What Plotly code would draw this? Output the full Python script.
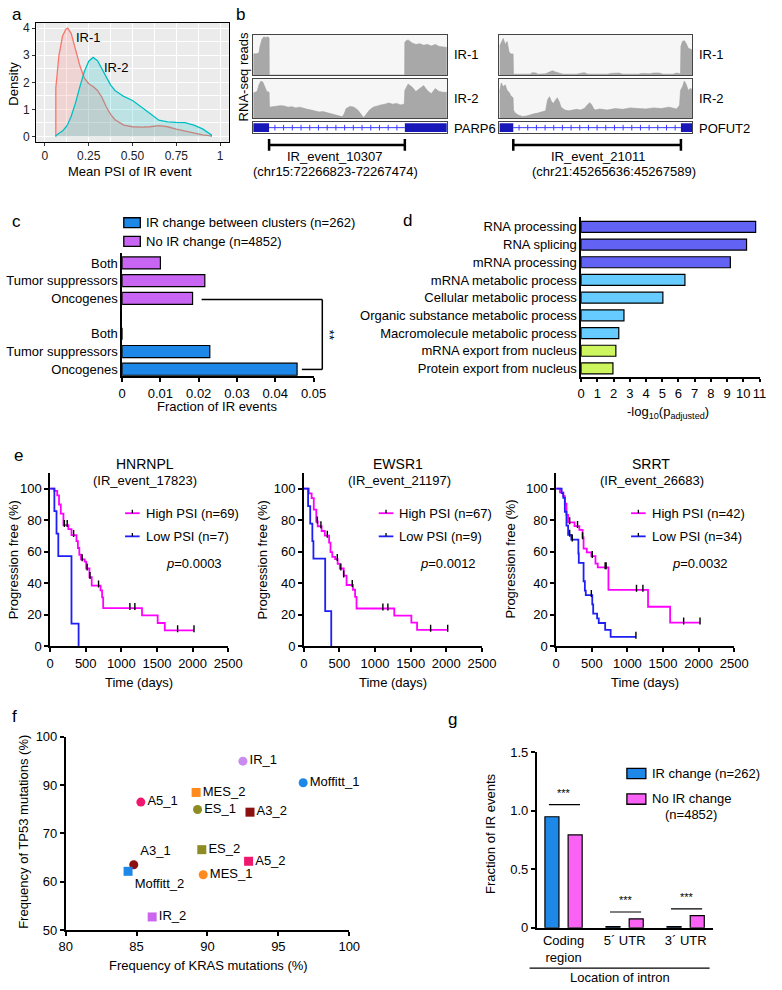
import numpy as np
import plotly.graph_objects as go

W, H = 782, 990
FONT = "Liberation Sans, Arial, sans-serif"


def fx(x):
    return x / W


def fy(y):
    return 1 - y / H


def dx(x0, x1):
    return [x0 / W, x1 / W]


def dy(y0, y1):
    return [1 - y1 / H, 1 - y0 / H]


# ===============================
# data
# ===============================

# a - density of mean PSI
psi_grid = [0.062, 0.08, 0.10, 0.12, 0.13, 0.15, 0.175, 0.20, 0.225, 0.25, 0.275, 0.30, 0.325,
            0.35, 0.375, 0.40, 0.45, 0.50, 0.55, 0.60, 0.65, 0.70, 0.75, 0.80, 0.85, 0.90, 0.95]
ir1_density = [1.8, 3.0, 3.7, 3.97, 4.0, 3.8, 3.2, 2.6, 2.15, 1.95, 1.85, 1.7, 1.45,
               1.1, 0.82, 0.62, 0.42, 0.36, 0.35, 0.36, 0.4, 0.36, 0.27, 0.2, 0.12, 0.06, 0.02]
ir2_density = [0.03, 0.12, 0.2, 0.35, 0.45, 0.75, 1.25, 1.85, 2.4, 2.78, 2.92, 2.8, 2.5,
               2.15, 1.9, 1.7, 1.48, 1.33, 1.1, 0.85, 0.6, 0.54, 0.52, 0.51, 0.42, 0.28, 0.06]

# b - coverage tracks (relative read depth, position in % of window)
parp6_ir1_pos = [0, 1, 2, 3, 3.5, 4.5, 5.5, 6.5, 7.5, 8.2, 8.3, 78.2, 78.3, 79, 80, 81, 82, 84,
                 86, 88, 90, 92, 94, 96, 98, 100]
parp6_ir1_cov = [0.55, 0.55, 0.56, 0.58, 0.75, 0.93, 1.0, 0.98, 1.0, 0.97, 0, 0, 0.85, 0.9, 0.92,
                 0.88, 0.84, 0.8, 0.82, 0.78, 0.8, 0.76, 0.8, 0.75, 0.74, 0.72]
parp6_ir2_pos = [0, 2, 3, 4, 5, 6, 7, 8.2, 8.4, 10, 12, 14, 16, 18, 20, 22, 24, 26, 28, 30, 32, 34,
                 36, 38, 40, 42, 44, 46, 47, 48, 50, 52, 54, 56, 57, 58, 60, 62, 64, 66, 68, 70,
                 72, 74, 76, 78, 78.3, 80, 82, 84, 86, 88, 90, 92, 94, 96, 98, 100]
parp6_ir2_cov = [0.68, 0.72, 0.9, 1.0, 0.97, 0.85, 0.72, 0.7, 0.3, 0.31, 0.33, 0.34, 0.33, 0.3, 0.31,
                 0.28, 0.3, 0.26, 0.24, 0.22, 0.2, 0.17, 0.18, 0.15, 0.13, 0.09, 0.06, 0.04, 0.12,
                 0.26, 0.32, 0.3, 0.22, 0.1, 0.02, 0.08, 0.22, 0.3, 0.34, 0.36, 0.38, 0.41, 0.38,
                 0.4, 0.36, 0.38, 0.75, 0.92, 0.84, 0.72, 0.8, 0.88, 0.74, 0.66, 0.8, 0.72, 0.7, 0.7]
pofut2_ir1_pos = [0, 1, 2, 3, 4, 5, 6, 7.1, 7.3, 16, 17, 19, 20, 24, 26, 27.5, 29, 31, 33, 40, 42,
                  44, 46, 56, 58, 62, 64, 72, 74, 78, 80, 83, 85, 90, 92, 94, 94.2, 95, 96, 97, 98,
                  99, 100]
pofut2_ir1_cov = [0.75, 0.85, 0.96, 0.8, 0.88, 0.6, 0.55, 0.55, 0.02, 0.02, 0.06, 0.05, 0.02, 0.03,
                  0.08, 0.11, 0.08, 0.05, 0.02, 0.02, 0.05, 0.06, 0.02, 0.02, 0.04, 0.05, 0.02,
                  0.02, 0.04, 0.03, 0.05, 0.05, 0.02, 0.02, 0.05, 0.03, 0.75, 0.88, 0.9, 0.82, 0.7,
                  0.68, 0.66]
pofut2_ir2_pos = [0, 1, 2, 3, 4, 5, 6, 7.1, 7.3, 8, 10, 12, 14, 16, 18, 20, 22, 24, 25, 26, 27, 28,
                  29, 30, 31, 32, 34, 36, 38, 40, 42, 44, 46, 47, 48, 49, 50, 52, 56, 60, 64, 68,
                  72, 76, 80, 84, 88, 92, 93.5, 94, 95, 96, 97, 98, 99, 100]
pofut2_ir2_cov = [0.7, 0.95, 0.85, 0.9, 0.75, 0.7, 0.6, 0.55, 0.22, 0.15, 0.08, 0.05, 0.06, 0.1,
                  0.12, 0.14, 0.18, 0.2, 0.5, 0.58, 0.45, 0.4, 0.48, 0.55, 0.45, 0.3, 0.22, 0.2,
                  0.22, 0.24, 0.22, 0.26, 0.38, 0.42, 0.35, 0.25, 0.22, 0.25, 0.22, 0.26, 0.24,
                  0.28, 0.26, 0.25, 0.28, 0.26, 0.3, 0.25, 0.35, 0.75, 0.85, 1.0, 0.9, 0.75, 0.8,
                  0.78]
parp6_exons = [[0, 8.2], [78.3, 100]]
pofut2_exons = [[0, 7.2], [94.2, 100]]

# c - fraction of IR events in cancer genes
gene_classes = ["Both", "Tumor suppressors", "Oncogenes"]
frac_ir_change = [0.0, 0.0229, 0.0457]
frac_no_change = [0.0100, 0.0216, 0.0184]

# d - GO enrichment
go_terms = ["RNA processing", "RNA splicing", "mRNA processing", "mRNA metabolic process",
            "Cellular metabolic process", "Organic substance metabolic process",
            "Macromolecule metabolic process", "mRNA export from nucleus",
            "Protein export from nucleus"]
go_logp = [10.76, 10.2, 9.2, 6.4, 5.04, 2.64, 2.32, 2.14, 1.96]

# e - Kaplan-Meier curves (time in days, progression free %)
hn_hi_t = [0, 60, 100, 125, 150, 187, 256, 300, 370, 390, 410, 434, 485, 507, 552, 584, 708,
           730, 745, 1290, 1510, 1610]
hn_hi_s = [100, 98.6, 95.7, 89.9, 84.1, 76.8, 74.3, 70.5, 66.7, 62.3, 58.0, 55.1, 53.6, 49.3,
           43.8, 38.4, 35.4, 30.9, 24.2, 19.5, 14.7, 10.0]
hn_hi_end = 2020
hn_hi_cens = [200, 240, 330, 450, 520, 560, 680, 1120, 1190, 1790, 2020]
hn_lo_t = [0, 60, 90, 115, 300, 400]
hn_lo_s = [100, 85.7, 71.4, 57.1, 14.3, 0]
hn_lo_end = 400
hn_lo_cens = []

ew_hi_t = [0, 70, 110, 140, 175, 195, 250, 295, 355, 375, 400, 440, 475, 505, 560, 600, 690,
           720, 740, 1270, 1510, 1590]
ew_hi_s = [100, 97.0, 94.0, 86.6, 79.1, 76.1, 73.1, 70.1, 65.7, 59.7, 56.7, 55.2, 52.2, 49.3,
           44.8, 38.8, 35.8, 31.3, 23.9, 19.4, 14.9, 10.4]
ew_hi_end = 2020
ew_hi_cens = [190, 240, 330, 470, 520, 560, 680, 1110, 1180, 1780, 2020]
ew_lo_t = [0, 60, 90, 120, 135, 300, 385]
ew_lo_s = [100, 88.9, 77.8, 66.7, 55.6, 22.2, 0]
ew_lo_end = 385
ew_lo_cens = []

sr_hi_t = [0, 54, 100, 122, 145, 168, 258, 326, 371, 385, 430, 494, 552, 584, 734, 1290, 1600]
sr_hi_s = [100, 97.6, 95.2, 90.5, 83.3, 78.6, 76.2, 73.8, 69.0, 61.9, 59.5, 57.1, 52.4, 50.0,
           35.7, 25.0, 15.0]
sr_hi_end = 2020
sr_hi_cens = [190, 300, 371, 507, 688, 702, 1128, 1218, 1790, 2020]
sr_lo_t = [0, 77, 100, 122, 145, 168, 213, 312, 318, 385, 403, 416, 507, 520, 575, 598, 688, 765]
sr_lo_s = [100, 97.1, 94.1, 85.3, 76.5, 70.6, 67.6, 58.8, 52.9, 41.2, 35.3, 32.4, 26.5, 20.6,
           17.6, 14.7, 10.3, 5.9]
sr_lo_end = 1120
sr_lo_cens = [190, 226, 494, 1120]

# f - KRAS / TP53 mutation frequency per subtype
subtypes = ["IR_1", "Moffitt_1", "MES_2", "A5_1", "ES_1", "A3_2", "ES_2", "A5_2", "A3_1",
            "Moffitt_2", "MES_1", "IR_2"]
kras_freq = [92.5, 96.75, 89.2, 85.3, 89.3, 93.0, 89.6, 92.9, 84.8, 84.4, 89.7, 86.1]
tp53_pos = [93.7, 88.1, 85.6, 83.1, 81.2, 80.5, 70.8, 67.8, 66.9, 65.2, 64.3, 53.4]
tp53_ticks = ["50", "60", "70", "90", "100"]

# g - intron location
intron_loc = ["Coding<br>region", "5´ UTR", "3´ UTR"]
loc_ir_change = [0.949, 0.01, 0.01]
loc_no_change = [0.794, 0.076, 0.104]

# ===============================
# style
# ===============================
BLUE = "#1E88E8"
PURPLE = "#C865F2"
PINK = "#FA62F5"
KM_HI = "#FF00FF"
KM_LO = "#1F1FF5"
go_colors = ["#6262F5"] * 3 + ["#66CCFF"] * 4 + ["#CCF55E"] * 2
sub_colors = ["#C98BEF", "#1E88E8", "#FF8A1E", "#F0186E", "#8C8C22", "#8B1010", "#8C8C22",
              "#F0186E", "#8B1010", "#1E88E8", "#FF8A1E", "#CC66EE"]
sub_symbols = ["circle", "circle", "square", "circle", "circle", "square", "square", "square",
               "circle", "square", "circle", "square"]
sub_textpos = ["middle right"] * 8 + ["top right", "bottom right", "middle right", "middle right"]

fig = go.Figure()
layout = dict(width=W, height=H, margin=dict(l=0, r=0, t=0, b=0), paper_bgcolor="white",
              plot_bgcolor="white", showlegend=False, barmode="overlay",
              font=dict(family=FONT, size=13, color="black"))
shapes, annos = [], []


def axis_common(**kw):
    d = dict(showgrid=False, zeroline=False, showline=True, linecolor="black", linewidth=1.5,
             ticks="outside", ticklen=4, tickwidth=1.5, tickcolor="black",
             tickfont=dict(family=FONT, size=13, color="black"), fixedrange=True)
    d.update(kw)
    return d


def set_axes(n, xd, yd, xkw, ykw):
    s = "" if n == 1 else str(n)
    layout["xaxis" + s] = axis_common(domain=xd, anchor="y" + s, **xkw)
    layout["yaxis" + s] = axis_common(domain=yd, anchor="x" + s, **ykw)
    return "x" + s, "y" + s


def label(x, y, text, size=13, xanchor="center", angle=0, **kw):
    annos.append(dict(x=fx(x), y=fy(y), xref="paper", yref="paper", text=text, showarrow=False,
                      font=dict(family=FONT, size=size, color="black"), xanchor=xanchor,
                      yanchor="middle", textangle=angle, **kw))


def pline(x0, y0, x1, y1, color="black", width=1.5):
    shapes.append(dict(type="line", xref="paper", yref="paper", x0=fx(x0), y0=fy(y0),
                       x1=fx(x1), y1=fy(y1), line=dict(color=color, width=width)))


def prect(x0, y0, x1, y1, color):
    shapes.append(dict(type="rect", xref="paper", yref="paper", x0=fx(x0), y0=fy(y1),
                       x1=fx(x1), y1=fy(y0), fillcolor=color, line=dict(color="black", width=1.3)))


def bg(xa, ya, color):
    shapes.append(dict(type="rect", xref=xa + " domain", yref=ya + " domain", x0=0, x1=1, y0=0,
                       y1=1, fillcolor=color, line=dict(width=0), layer="below"))


# ===============================
# a
# ===============================
grid = dict(showgrid=True, gridcolor="white", gridwidth=1.1, mirror=True, linewidth=1,
            ticklen=3, tickwidth=1, tickcolor="#333", tickfont=dict(size=12, color="#222"))
xa, ya = set_axes(1, dx(30, 228), dy(16, 137),
                  dict(range=[-0.05, 1.05], tickvals=[0, 0.25, 0.5, 0.75, 1],
                       ticktext=["0", "0.25", "0.50", "0.75", "1"],
                       minor=dict(tickvals=[0.125, 0.375, 0.625, 0.875], showgrid=True,
                                  gridcolor="white", gridwidth=0.5, ticks=""), **grid),
                  dict(range=[-0.2, 4.2], tickvals=[0, 1, 2, 3, 4],
                       minor=dict(tickvals=[0.5, 1.5, 2.5, 3.5], showgrid=True,
                                  gridcolor="white", gridwidth=0.5, ticks=""), **grid))
bg(xa, ya, "#EBEBEB")
for dens, col, fc in [(ir1_density, "#F8766D", "rgba(248,118,109,0.2)"),
                      (ir2_density, "#00BFC4", "rgba(0,191,196,0.2)")]:
    fig.add_trace(go.Scatter(x=[psi_grid[0]] + psi_grid + [psi_grid[-1]], y=[0] + dens + [0],
                             mode="lines", fill="toself", fillcolor=fc,
                             line=dict(color=col, width=1.3), xaxis=xa, yaxis=ya))
annos.append(dict(x=0.25, y=3.67, xref=xa, yref=ya, text="IR-1", showarrow=False,
                  font=dict(size=13)))
annos.append(dict(x=0.41, y=2.55, xref=xa, yref=ya, text="IR-2", showarrow=False,
                  font=dict(size=13)))
label(7, 78, "Density", angle=-90)
label(126, 167, "Mean PSI of IR event")

# ===============================
# b
# ===============================
trk = dict(showticklabels=False, ticks="", mirror=True, linecolor="#444", linewidth=1.2)
sides = [
    (253, 452, 457, parp6_ir1_pos, parp6_ir1_cov, parp6_ir2_pos, parp6_ir2_cov, parp6_exons,
     "PARP6", "IR_event_10307", "(chr15:72266823-72267474)", 337, 338, 2),
    (506, 704, 709, pofut2_ir1_pos, pofut2_ir1_cov, pofut2_ir2_pos, pofut2_ir2_cov, pofut2_exons,
     "POFUT2", "IR_event_21011", "(chr21:45265636:45267589)", 607, 624, 5),
]
for (x0, x1, lx, p1, c1, p2, c2, exons, gname, ev, coord, evx, cox, n0) in sides:
    for k, (pos, cov, yd, tl) in enumerate([(p1, c1, (28, 69), "IR-1"),
                                            (p2, c2, (73, 113), "IR-2")]):
        xa, ya = set_axes(n0 + k, dx(x0, x1), dy(*yd), dict(range=[0, 100], **trk),
                          dict(range=[0, 1.06], **trk))
        bg(xa, ya, "#F6F6F6")
        fig.add_trace(go.Scatter(x=pos, y=cov, mode="lines", fill="tozeroy",
                                 fillcolor="#A8A8A8", line=dict(color="#A0A0A0", width=0.6),
                                 xaxis=xa, yaxis=ya))
        label(lx, (yd[0] + yd[1]) / 2, tl, xanchor="left")
    xa, ya = set_axes(n0 + 2, dx(x0, x1), dy(117, 128), dict(range=[0, 100], **trk),
                      dict(range=[0, 1], **trk))
    for e0, e1 in exons:
        shapes.append(dict(type="rect", xref=xa, yref=ya, x0=e0, x1=e1, y0=0.1, y1=0.9,
                           fillcolor="#1818B8", line=dict(width=0)))
    i0, i1 = exons[0][1], exons[1][0]
    fig.add_trace(go.Scatter(x=[i0, i1], y=[0.5, 0.5], mode="lines",
                             line=dict(color="#3A3AFF", width=1), xaxis=xa, yaxis=ya))
    chev = list(np.arange(i0 + 3, i1 - 1, 4.5))
    fig.add_trace(go.Scatter(x=chev, y=[0.5] * len(chev), mode="markers",
                             marker=dict(symbol="line-ns", size=4,
                                         line=dict(color="#3A3AFF", width=1)),
                             xaxis=xa, yaxis=ya))
    label(lx, 123, gname, xanchor="left")
    # intron scale bar
    shapes.append(dict(type="line", xref=xa, yref="paper", x0=i0, x1=i1,
                       y0=fy(140), y1=fy(140), line=dict(color="black", width=2.5)))
    for xe in (i0, i1):
        shapes.append(dict(type="line", xref=xa, yref="paper", x0=xe, x1=xe,
                           y0=fy(134), y1=fy(146), line=dict(color="black", width=2.5)))
    label(evx, 152, ev)
    label(cox, 167, coord)
label(243, 71, "RNA-seq reads", angle=-90)

# ===============================
# c
# ===============================
purple_cats = [c + "\u200b" for c in gene_classes]
spacer = "\u200b\u200b"
xa, ya = set_axes(8, dx(118.3, 315), dy(250, 375),
                  dict(range=[0, 0.05], tickvals=[0, 0.01, 0.02, 0.03, 0.04, 0.05],
                       ticktext=["0", "0.01", "0.02", "0.03", "0.04", "0.05"]),
                  dict(type="category", categoryorder="array",
                       categoryarray=purple_cats + [spacer] + gene_classes,
                       range=[6.4, -0.55], ticks=""))
fig.add_trace(go.Bar(y=purple_cats, x=frac_no_change, orientation="h", width=0.68,
                     marker=dict(color=PURPLE, line=dict(color="black", width=1.2)),
                     xaxis=xa, yaxis=ya))
fig.add_trace(go.Bar(y=[spacer], x=[0], orientation="h", width=0.68,
                     marker=dict(color="rgba(0,0,0,0)", line=dict(width=0)),
                     xaxis=xa, yaxis=ya))
fig.add_trace(go.Bar(y=gene_classes, x=frac_ir_change, orientation="h", width=0.68,
                     marker=dict(color=BLUE, line=dict(color="black", width=1.2)),
                     xaxis=xa, yaxis=ya))
prect(120, 214, 137, 224, BLUE)
prect(120, 233, 137, 243, PURPLE)
label(141, 219, "IR change between clusters (n=262)", xanchor="left")
label(141, 238, "No IR change (n=4852)", xanchor="left")
pline(200, 297, 324, 297)
pline(324, 297, 324, 368)
pline(324, 368, 303, 368)
label(331, 333, "**", angle=90)
label(216, 406, "Fraction of IR events")

# ===============================
# d
# ===============================
xa, ya = set_axes(9, dx(590, 773.3), dy(213, 376),
                  dict(range=[0, 11], tickvals=list(range(12)), ticklen=3),
                  dict(type="category", categoryorder="array", categoryarray=go_terms,
                       range=[8.5, -0.57], ticks=""))
fig.add_trace(go.Bar(y=go_terms, x=go_logp, orientation="h", width=0.62,
                     marker=dict(color=go_colors, line=dict(color="black", width=1.2)),
                     xaxis=xa, yaxis=ya))
label(679, 412, "-log<sub>10</sub>(p<sub>adjusted</sub>)")

# ===============================
# e
# ===============================
km_panels = [
    (44.3, "HNRNPL", "(IR_event_17823)", "0.0003", 7,
     (hn_hi_t, hn_hi_s, hn_hi_end, hn_hi_cens, "High PSI (n=69)"),
     (hn_lo_t, hn_lo_s, hn_lo_end, hn_lo_cens, "Low PSI (n=7)")),
    (305.0, "EWSR1", "(IR_event_21197)", "0.0012", 263,
     (ew_hi_t, ew_hi_s, ew_hi_end, ew_hi_cens, "High PSI (n=67)"),
     (ew_lo_t, ew_lo_s, ew_lo_end, ew_lo_cens, "Low PSI (n=9)")),
    (564.3, "SRRT", "(IR_event_26683)", "0.0032", 517,
     (sr_hi_t, sr_hi_s, sr_hi_end, sr_hi_cens, "High PSI (n=42)"),
     (sr_lo_t, sr_lo_s, sr_lo_end, sr_lo_cens, "Low PSI (n=34)")),
]
for i, (ax0, gene, ev, pval, ytx, hi, lo) in enumerate(km_panels):
    xa, ya = set_axes(10 + i, dx(ax0, ax0 + 183), dy(473, 649),
                      dict(range=[0, 2500], tickvals=[0, 500, 1000, 1500, 2000, 2500]),
                      dict(range=[0, 110], tickvals=[0, 20, 40, 60, 80, 100]))
    for (t, s, end, cens, name), col, ly in [(hi, KM_HI, 514), (lo, KM_LO, 537.5)]:
        fig.add_trace(go.Scatter(x=t + [end], y=s + [s[-1]], mode="lines", line_shape="hv",
                                 line=dict(color=col, width=1.8), xaxis=xa, yaxis=ya))
        if cens:
            idx = np.searchsorted(t, cens, side="right") - 1
            fig.add_trace(go.Scatter(x=cens, y=[s[j] + 1 for j in idx], mode="markers",
                                     marker=dict(symbol="line-ns", size=5,
                                                 line=dict(color="black", width=1.4)),
                                     xaxis=xa, yaxis=ya))
        pline(ax0 + 77, ly, ax0 + 92, ly, col, 1.8)
        pline(ax0 + 84.5, ly - 3.5, ax0 + 84.5, ly, "black", 1.3)
        label(ax0 + 96, ly, name, xanchor="left")
    label(ax0 + 97, 464, gene, size=14)
    label(ax0 + 98, 481, ev)
    label(ax0 + 148, 565, "<i>p</i>=" + pval)
    label(ytx, 561, "Progression free (%)", angle=-90)
    label(ax0 + 91.5, 686, "Time (days)")

# ===============================
# f
# ===============================
xa, ya = set_axes(13, dx(60.3, 351.7), dy(741, 937.3),
                  dict(range=[80, 100], tickvals=[80, 85, 90, 95, 100]),
                  dict(range=[50, 100], tickvals=[50, 62.5, 75, 87.5, 100], ticktext=tp53_ticks))
fig.add_trace(go.Scatter(x=kras_freq, y=tp53_pos, mode="markers+text", text=subtypes,
                         textposition=sub_textpos, textfont=dict(size=13, color="black"),
                         marker=dict(color=sub_colors, symbol=sub_symbols, size=9),
                         cliponaxis=False, xaxis=xa, yaxis=ya))
label(207, 973, "Frequency of KRAS mutations (%)")
label(17, 838, "Frequency of TP53 mutations (%)", angle=-90)

# ===============================
# g
# ===============================
xa, ya = set_axes(14, dx(544.3, 725), dy(756.7, 935),
                  dict(type="category", categoryorder="array", categoryarray=intron_loc,
                       range=[-0.44, 2.44], ticks=""),
                  dict(range=[0, 1.5], tickvals=[0, 0.5, 1, 1.5],
                       ticktext=["0", "0.5", "1.0", "1.5"]))
fig.add_trace(go.Bar(x=intron_loc, y=loc_ir_change, width=0.23, offset=-0.305,
                     marker=dict(color=BLUE, line=dict(color="black", width=1.2)),
                     xaxis=xa, yaxis=ya))
fig.add_trace(go.Bar(x=intron_loc, y=loc_no_change, width=0.23, offset=0.075,
                     marker=dict(color=PINK, line=dict(color="black", width=1.2)),
                     xaxis=xa, yaxis=ya))
sig_heights = [1.052, 0.135, 0.162]
for k, hgt in enumerate(sig_heights):
    shapes.append(dict(type="line", xref=xa, yref=ya, x0=k - 0.24, x1=k + 0.27, y0=hgt, y1=hgt,
                       line=dict(color="black", width=1.2)))
    annos.append(dict(x=k + 0.015, y=hgt + 0.035, xref=xa, yref=ya, text="***",
                      showarrow=False, font=dict(size=11), yanchor="bottom"))
prect(637, 773, 656.5, 783.5, BLUE)
prect(637, 799, 656.5, 809.5, PINK)
label(661, 778, "IR change (n=262)", xanchor="left")
label(661, 804, "No IR change", xanchor="left")
label(703, 820, "(n=4852)")
label(497, 840, "Fraction of IR events", angle=-90)
pline(537, 976, 722, 976, width=1.2)
label(630, 985, "Location of intron")

# panel letters
for t, x, y in [("a", 10, 8), ("b", 240, 8), ("c", 10, 218), ("d", 412, 217), ("e", 12, 455),
                ("f", 8, 720), ("g", 458, 723)]:
    label(x, y, t, size=17)

layout["shapes"] = shapes
layout["annotations"] = annos
fig.update_layout(**layout)
fig.write_html("out.html", config={"displayModeBar": False},
               post_script="document.body.style.margin='0px';"
                           "document.body.style.overflow='hidden';")
